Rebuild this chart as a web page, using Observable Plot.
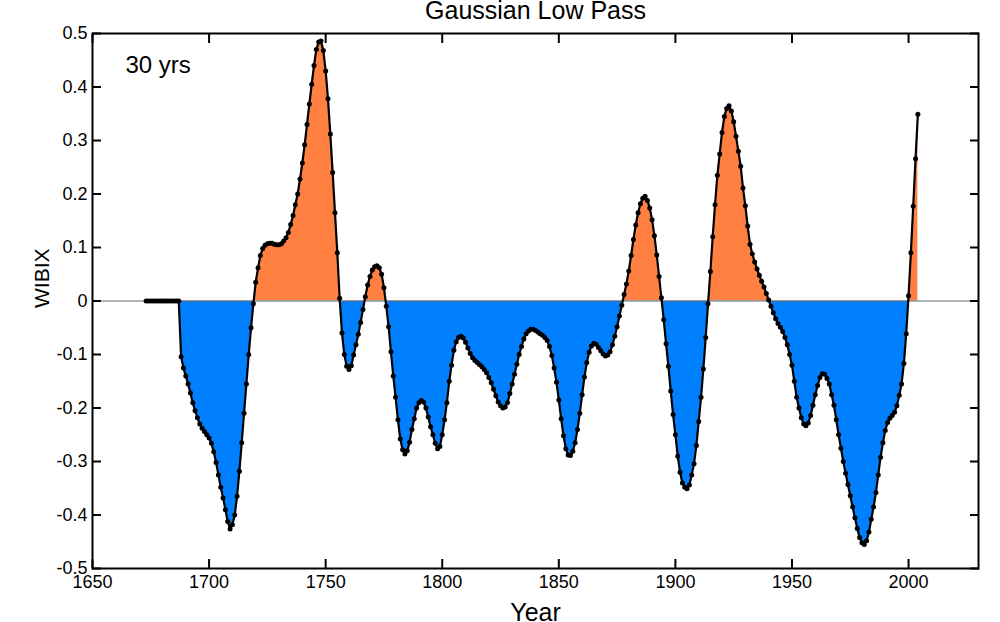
<!DOCTYPE html>
<html>
<head>
<meta charset="utf-8">
<script src="https://cdn.jsdelivr.net/npm/d3@7"></script>
<script src="https://cdn.jsdelivr.net/npm/@observablehq/plot@0.6"></script>
<style>
  html, body { margin: 0; padding: 0; background: #fff; }
  #chart { width: 1000px; height: 622px; }
</style>
</head>
<body>
<div id="chart"></div>
<script>
// ---- data ----
const titleText = "Gaussian Low Pass";
const filterLabel = "30 yrs";
const xLabel = "Year";
const yLabel = "WIBIX";
const xTicks = [1650, 1700, 1750, 1800, 1850, 1900, 1950, 2000];
const yTicks = [-0.5, -0.4, -0.3, -0.2, -0.1, 0, 0.1, 0.2, 0.3, 0.4, 0.5];
const firstYear = 1673;
const wibix = [
  0, 0, 0, 0, 0, 0, 0,                                                          // 1673-1679
  0, 0, 0, 0, 0, 0, 0, 0, -0.104, -0.125,                                      // 1680s
  -0.140, -0.155, -0.172, -0.190, -0.205, -0.218, -0.230, -0.238, -0.244, -0.250, // 1690s
  -0.256, -0.266, -0.282, -0.302, -0.325, -0.348, -0.368, -0.390, -0.412, -0.426, // 1700s
  -0.418, -0.400, -0.365, -0.318, -0.265, -0.210, -0.155, -0.100, -0.050, -0.005, // 1710s
  0.035, 0.062, 0.085, 0.098, 0.104, 0.107, 0.108, 0.108, 0.106, 0.105,         // 1720s
  0.105, 0.107, 0.112, 0.118, 0.128, 0.143, 0.160, 0.180, 0.200, 0.228,         // 1730s
  0.258, 0.292, 0.330, 0.368, 0.405, 0.440, 0.470, 0.484, 0.486, 0.468,         // 1740s
  0.430, 0.378, 0.312, 0.240, 0.165, 0.090, 0.005, -0.060, -0.100, -0.122,      // 1750s
  -0.128, -0.121, -0.101, -0.082, -0.062, -0.040, -0.016, 0.008, 0.030, 0.046,  // 1760s
  0.058, 0.064, 0.066, 0.062, 0.050, 0.025, -0.010, -0.048, -0.095, -0.140,     // 1770s
  -0.180, -0.222, -0.258, -0.278, -0.286, -0.280, -0.264, -0.240, -0.220, -0.200, // 1780s
  -0.190, -0.186, -0.189, -0.200, -0.217, -0.235, -0.250, -0.266, -0.276, -0.272, // 1790s
  -0.250, -0.222, -0.190, -0.150, -0.120, -0.092, -0.076, -0.068, -0.066, -0.069, // 1800s
  -0.077, -0.088, -0.098, -0.106, -0.111, -0.115, -0.119, -0.123, -0.128, -0.134, // 1810s
  -0.143, -0.153, -0.165, -0.177, -0.189, -0.196, -0.200, -0.198, -0.190, -0.173, // 1820s
  -0.155, -0.137, -0.118, -0.100, -0.085, -0.071, -0.061, -0.056, -0.053, -0.053, // 1830s
  -0.055, -0.058, -0.061, -0.064, -0.068, -0.074, -0.085, -0.102, -0.125, -0.152, // 1840s
  -0.185, -0.220, -0.252, -0.276, -0.288, -0.289, -0.281, -0.265, -0.240, -0.210, // 1850s
  -0.175, -0.142, -0.115, -0.096, -0.084, -0.079, -0.081, -0.087, -0.093, -0.099, // 1860s
  -0.103, -0.101, -0.095, -0.082, -0.066, -0.048, -0.028, -0.008, 0.012, 0.032,  // 1870s
  0.056, 0.085, 0.115, 0.142, 0.165, 0.182, 0.192, 0.196, 0.188, 0.174,         // 1880s
  0.152, 0.122, 0.086, 0.046, 0.006, -0.035, -0.080, -0.122, -0.168, -0.212,    // 1890s
  -0.250, -0.290, -0.320, -0.340, -0.348, -0.351, -0.344, -0.325, -0.304, -0.270, // 1900s
  -0.225, -0.180, -0.127, -0.068, -0.005, 0.055, 0.120, 0.180, 0.235, 0.275,    // 1910s
  0.315, 0.345, 0.360, 0.365, 0.355, 0.335, 0.308, 0.280, 0.252, 0.211,         // 1920s
  0.178, 0.140, 0.106, 0.088, 0.073, 0.060, 0.048, 0.037, 0.026, 0.014,         // 1930s
  0.002, -0.010, -0.022, -0.033, -0.042, -0.049, -0.057, -0.068, -0.082, -0.100, // 1940s
  -0.120, -0.150, -0.180, -0.200, -0.218, -0.230, -0.233, -0.228, -0.214, -0.195, // 1950s
  -0.175, -0.158, -0.143, -0.136, -0.137, -0.145, -0.155, -0.175, -0.195, -0.222, // 1960s
  -0.250, -0.275, -0.300, -0.322, -0.343, -0.364, -0.385, -0.405, -0.425, -0.442, // 1970s
  -0.452, -0.455, -0.448, -0.432, -0.408, -0.385, -0.358, -0.325, -0.292, -0.265, // 1980s
  -0.242, -0.227, -0.219, -0.214, -0.208, -0.196, -0.176, -0.155, -0.117, -0.061, // 1990s
  0.010, 0.090, 0.177, 0.266, 0.349                                             // 2000-2004
];
const posColor = "#ff8040";
const negColor = "#0080ff";

const data = wibix.map((v, i) => ({year: firstYear + i, value: v}));
const fmtY = d => (d === 0 ? "0" : d.toFixed(1));

const chart = Plot.plot({
  width: 1000,
  height: 622,
  marginLeft: 92,
  marginRight: 22,
  marginTop: 33,
  marginBottom: 54,
  style: {fontFamily: "'Liberation Sans', Arial, sans-serif", fontSize: "18px", background: "#fff", color: "#000", overflow: "visible"},
  x: {domain: [1650, 2030]},
  y: {domain: [-0.5, 0.5]},
  marks: [
    Plot.areaY(data, {x: "year", y1: 0, y2: "value", fill: posColor, curve: "linear"}),
    Plot.areaY(data, {x: "year", y1: 0, y2: "value", fill: negColor, curve: "linear"}),
    Plot.ruleY([0], {stroke: "#666666", strokeWidth: 1}),
    Plot.line(data, {x: "year", y: "value", stroke: "#000", strokeWidth: 2.2}),
    Plot.dot(data, {x: "year", y: "value", r: 2.5, fill: "#000", stroke: null}),
    Plot.frame({stroke: "#000", strokeWidth: 2}),
    Plot.axisX({anchor: "bottom", ticks: xTicks, tickSize: -9, tickPadding: 16, tickFormat: d => String(d), label: null, strokeWidth: 2, fontSize: 18}),
    Plot.axisX({anchor: "top", ticks: xTicks, tickSize: -9, tickFormat: () => "", label: null, strokeWidth: 2}),
    Plot.axisY({anchor: "left", ticks: yTicks, tickSize: -9, tickPadding: 14, tickFormat: fmtY, label: null, strokeWidth: 2, fontSize: 18}),
    Plot.axisY({anchor: "right", ticks: yTicks, tickSize: -9, tickFormat: () => "", label: null, strokeWidth: 2}),
    Plot.text([titleText], {frameAnchor: "top", dy: -15, lineAnchor: "bottom", fontSize: 25}),
    Plot.text([filterLabel], {frameAnchor: "top-left", dx: 33, dy: 22, textAnchor: "start", lineAnchor: "top", fontSize: 24}),
    Plot.text([xLabel], {frameAnchor: "bottom", dy: 52, lineAnchor: "bottom", fontSize: 25}),
    Plot.text([yLabel], {frameAnchor: "left", dx: -50, dy: 7, rotate: -90, fontSize: 21})
  ]
});

// clip the two fills at the zero line (above: orange, below: blue)
const y0 = chart.scale("y").apply(0);
const ns = "http://www.w3.org/2000/svg";
const defs = document.createElementNS(ns, "defs");
function addClip(id, y, h) {
  const cp = document.createElementNS(ns, "clipPath");
  cp.setAttribute("id", id);
  const r = document.createElementNS(ns, "rect");
  r.setAttribute("x", 0); r.setAttribute("y", y);
  r.setAttribute("width", 1000); r.setAttribute("height", h);
  cp.appendChild(r); defs.appendChild(cp);
}
addClip("clip-pos", 0, y0);
addClip("clip-neg", y0, 622 - y0);
chart.insertBefore(defs, chart.firstChild);
const areas = chart.querySelectorAll('g[aria-label="area"]');
if (areas[0]) areas[0].setAttribute("clip-path", "url(#clip-pos)");
if (areas[1]) areas[1].setAttribute("clip-path", "url(#clip-neg)");

document.getElementById("chart").appendChild(chart);
</script>
</body>
</html>
